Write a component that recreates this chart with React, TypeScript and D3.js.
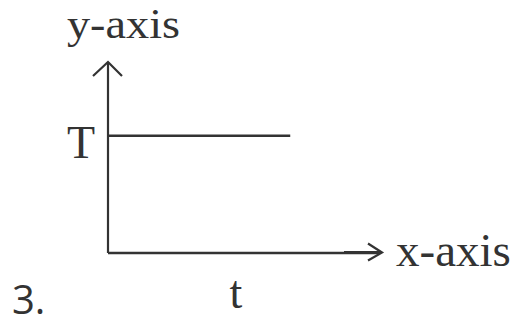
import { useEffect, useRef } from 'react';
import * as d3 from 'd3';

// step: y = T from t = 0 up to tEnd
const levelPoints = [[0, 1], [6.7, 1]];
const xDomain = [0, 10];
const yDomain = [0, 1.63];
const levelLabel = 'T';
const timeLabel = 't';
const xAxisLabel = 'x-axis';
const yAxisLabel = 'y-axis';
const figureNumber = '3.';

const WIDTH = 519, HEIGHT = 334;
const ink = '#333';

function renderGraph(svgEl) {
    const svg = d3.select(svgEl);
    svg.selectAll('*').remove();

    svg.append('rect').attr('width', WIDTH).attr('height', HEIGHT).attr('fill', '#fff');

    const x = d3.scaleLinear().domain(xDomain).range([108, 380]);
    const y = d3.scaleLinear().domain(yDomain).range([253, 62]);

    const g = svg.append('g');

    // axes
    g.append('line')
        .attr('x1', x(0)).attr('y1', y(0))
        .attr('x2', x(xDomain[1])).attr('y2', y(0))
        .attr('stroke', ink).attr('stroke-width', 2.5);
    g.append('line')
        .attr('x1', x(0)).attr('y1', y(0))
        .attr('x2', x(0)).attr('y2', y(yDomain[1]))
        .attr('stroke', ink).attr('stroke-width', 2.2);

    // y-axis arrowhead (open chevron)
    const tipY = [x(0), y(yDomain[1])];
    g.append('path')
        .attr('d', `M${tipY[0] - 15},${tipY[1] + 14}L${tipY[0]},${tipY[1]}L${tipY[0] + 14},${tipY[1] + 14}`)
        .attr('fill', 'none').attr('stroke', ink).attr('stroke-width', 2.2);

    // x-axis arrowhead
    const tipX = [x(xDomain[1]) + 2, y(0) - 0.5];
    g.append('path')
        .attr('d', `M${tipX[0] - 14},${tipX[1] - 9}L${tipX[0]},${tipX[1]}L${tipX[0] - 14},${tipX[1] + 8}`)
        .attr('fill', 'none').attr('stroke', ink).attr('stroke-width', 2.2);
    g.append('line')
        .attr('x1', tipX[0] - 38).attr('y1', tipX[1])
        .attr('x2', tipX[0] - 2).attr('y2', tipX[1])
        .attr('stroke', ink).attr('stroke-width', 3.2);

    // the level line
    const line = d3.line().x(d => x(d[0])).y(d => y(d[1]));
    g.append('path')
        .datum(levelPoints)
        .attr('d', line)
        .attr('fill', 'none').attr('stroke', ink).attr('stroke-width', 2.5);

    const serif = '"Liberation Serif", "Times New Roman", serif';
    const text = (s, px, py, size, family, anchor = 'start') => g.append('text')
        .attr('x', px).attr('y', py)
        .attr('font-family', family).attr('font-size', size)
        .attr('fill', ink).attr('text-anchor', anchor)
        .text(s);

    // kept a bit smaller so it stays inside the top edge
    text(yAxisLabel, 67, 37.5, 42, serif)
        .attr('textLength', 113).attr('lengthAdjust', 'spacingAndGlyphs');
    text(levelLabel, 67, y(1) + 22, 46, serif);
    text(xAxisLabel, 396, y(0) + 13, 47, serif);
    text(timeLabel, 236, 308, 46, serif, 'middle');
    text(figureNumber, 12, 314, 40, '"Open Sans", "Liberation Sans", sans-serif');
}

const App = () => {
    const ref = useRef(null);
    useEffect(() => {
        renderGraph(ref.current);
    }, []);
    return (
        <svg ref={ref} width={WIDTH} height={HEIGHT}
            style={{ position: 'absolute', left: 0, top: 0 }} />
    );
};

export default App;
